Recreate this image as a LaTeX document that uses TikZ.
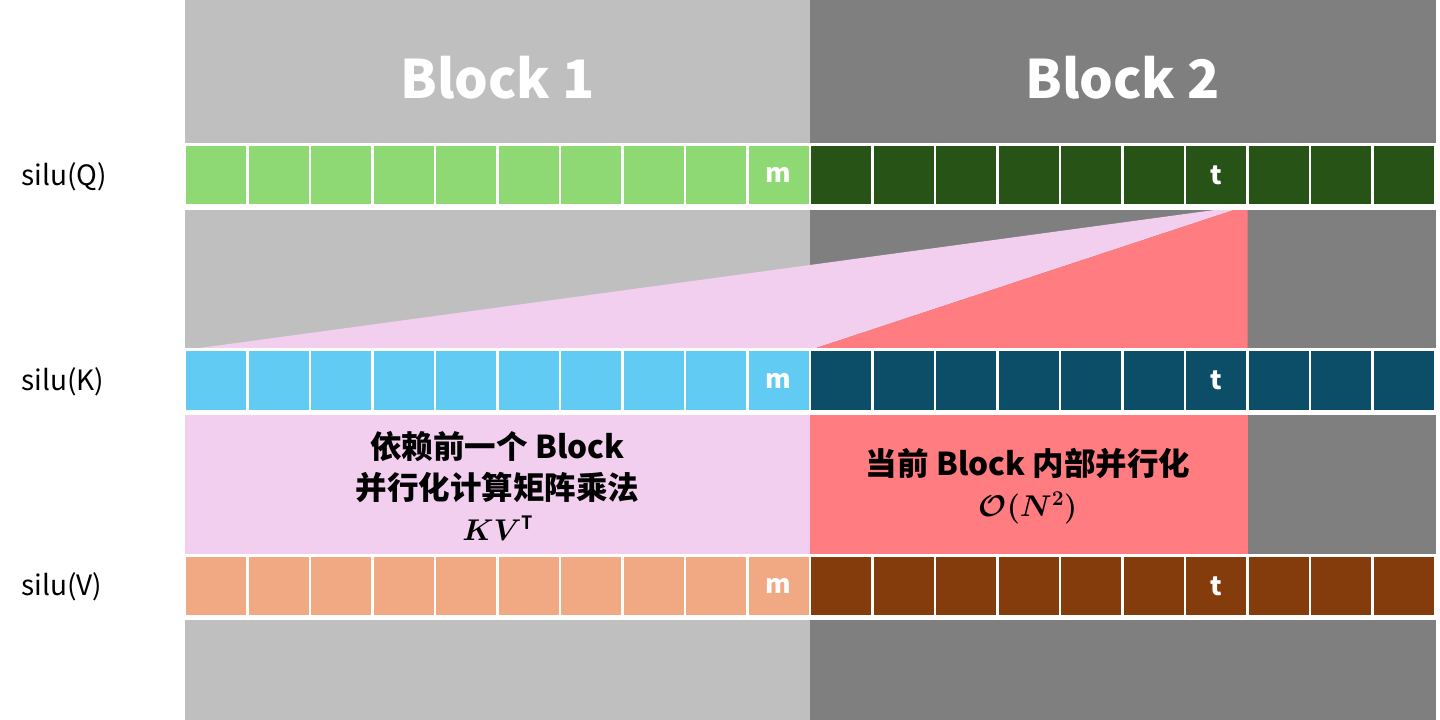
\RequirePackage{fix-cm}
\documentclass[tikz,border=0pt]{standalone}
\usepackage{fontspec}
\setmainfont{Carlito}
\newfontfamily\cjk{Noto Sans CJK SC}
\usetikzlibrary{backgrounds}

\definecolor{blockone}{HTML}{BFBFBF}
\definecolor{blocktwo}{HTML}{7F7F7F}
\definecolor{qlight}{HTML}{8ED973}
\definecolor{qdark}{HTML}{275317}
\definecolor{klight}{HTML}{61CBF4}
\definecolor{kdark}{HTML}{0C4D68}
\definecolor{vlight}{HTML}{F1A983}
\definecolor{vdark}{HTML}{843C0C}
\definecolor{prevpink}{HTML}{F2CEEF}
\definecolor{intrared}{HTML}{FF7C80}

\begin{document}
\begin{tikzpicture}[x=1pt,y=-1pt,
  cell/.style={draw=white,line width=2.5pt,outer sep=0pt,inner sep=0pt,
    minimum width=62.5pt,minimum height=61pt},
  celltext/.style={text=white,font=\cjk\bfseries\fontsize{26}{26}\selectfont},
  rowlabel/.style={anchor=west,font=\cjk\fontsize{28}{28}\selectfont},
  blocktitle/.style={text=white,font=\cjk\bfseries\fontsize{53}{53}\selectfont},
  note/.style={align=center,font=\cjk\bfseries\fontsize{31.5}{41}\selectfont}
]
  \useasboundingbox (0,0) rectangle (1440,720);

  % cells of the three rows
  \foreach \i in {0,...,19} {
    \ifnum\i<10 \def\qc{qlight}\def\kc{klight}\def\vc{vlight}%
    \else \def\qc{qdark}\def\kc{kdark}\def\vc{vdark}\fi
    \node[cell,fill=\qc] (q\i) at ({216.25+62.5*\i},175) {};
    \node[cell,fill=\kc] (k\i) at ({216.25+62.5*\i},380.5) {};
    \node[cell,fill=\vc] (v\i) at ({216.25+62.5*\i},586) {};
  }

  \node[celltext] (qm) at (q9) {m};
  \node[celltext] (qt) at (q16) {t};
  \node[celltext] (km) at (k9) {m};
  \node[celltext] (kt) at (k16) {t};
  \node[celltext] (vm) at (v9) {m};
  \node[celltext] (vt) at (v16) {t};

  \begin{pgfonlayer}{background}
    \fill[blockone] (185,0) rectangle (810,720);
    \fill[blocktwo] (810,0) rectangle (1436,720);
    % previous block / current block areas
    \fill[prevpink] (k0.north west) -- (q16.south east) -- (k10.north west) -- cycle;
    \fill[intrared] (k10.north west) -- (q16.south east) -- (k16.north east) -- cycle;
    \fill[prevpink] (185,415) rectangle (810,555);
    \fill[intrared] (810,415) rectangle (1247.5,555);
    % white strips behind the rows
    \fill[white] (185,143) rectangle (1436,210);
    \fill[white] (185,348) rectangle (1436,415);
    \fill[white] (185,554) rectangle (1436,620);
  \end{pgfonlayer}

  \node[blocktitle] (b1) at (497.5,78) {Block 1};
  \node[blocktitle] (b2) at (1122.5,78) {Block 2};

  \node[rowlabel] (lq) at (18,177) {silu(Q)};
  \node[rowlabel] (lk) at (18,382) {silu(K)};
  \node[rowlabel] (lv) at (18,587) {silu(V)};

  \node[note] (prev) at (497.5,486) {依赖前一个 Block\\并行化计算矩阵乘法\\
    {\fontsize{30}{41}\selectfont\boldmath$KV^{\mathrm{T}}$}};
  \node[note] (intra) at (1028,486) {当前 Block 内部并行化\\
    {\fontsize{30}{41}\selectfont\boldmath$\mathcal{O}(N^{2})$}};
\end{tikzpicture}
\end{document}
